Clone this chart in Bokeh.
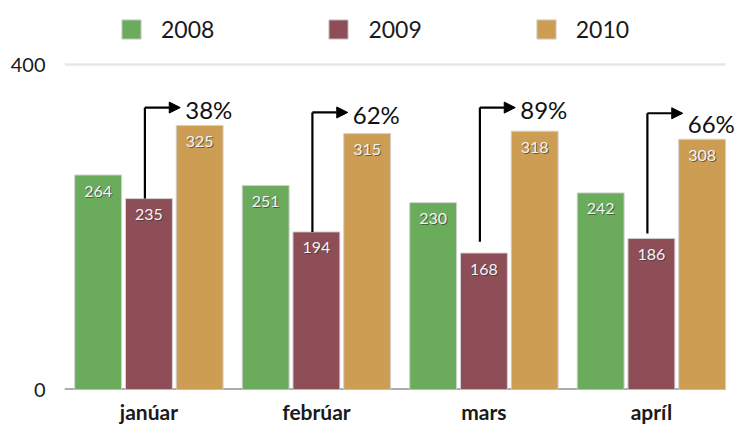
from bokeh.plotting import figure
from bokeh.models import (ColumnDataSource, Range1d, FixedTicker, Legend, LegendItem,
                          Arrow, NormalHead)
from bokeh.core.properties import value
from bokeh.embed import file_html
from bokeh.resources import INLINE

# ---- data ----
months = ["janúar", "febrúar", "mars", "apríl"]
years = ["2008", "2009", "2010"]
v2008 = [264, 251, 230, 242]
v2009 = [235, 194, 168, 186]
v2010 = [325, 315, 318, 308]
pct_labels = ["38%", "62%", "89%", "66%"]
arrow_base = [235, 194, 182, 192]      # where each elbow arrow starts
arrow_level = [347, 341, 347, 340]     # height of the horizontal arrow leg
pct_label_y = [345, 339, 345, 328]     # height of percentage labels
y_ticks = [0, 400]

colors = ["#6aab5c", "#8e4e57", "#cc9d52"]
FONT = "Lato"

xs = list(range(len(months)))
bar_w = 0.28
offs = [-0.303, 0.0, 0.303]
x_lo, x_hi = -0.504, len(months) - 0.558

p = figure(output_backend="svg", toolbar_location=None,
           frame_width=671, frame_height=389,
           min_border_left=64, min_border_right=0, min_border_top=0, min_border_bottom=0,
           x_range=Range1d(x_lo, 3.502), y_range=Range1d(0, 478.8))
p.outline_line_color = None
p.background_fill_color = "white"
p.xgrid.visible = False
p.ygrid.visible = False

# gridline at top value and dark baseline
p.segment(x0=[x_lo], y0=[y_ticks[-1]], x1=[x_hi], y1=[y_ticks[-1]], line_color="#e6e6e6", line_width=2.5)
p.segment(x0=[x_lo], y0=[0], x1=[x_hi], y1=[0], line_color="#5a5a5a", line_width=2)

renderers = []
for vals, off, col in zip([v2008, v2009, v2010], offs, colors):
    src = ColumnDataSource(dict(x=[x + off for x in xs], top=vals,
                                lab=[str(v) for v in vals]))
    r = p.vbar(x="x", top="top", bottom=0, width=bar_w, source=src,
               fill_color=col, line_color="#d2d2d2", line_width=1)
    renderers.append(r)
    p.text(x="x", y="top", text="lab", source=src, text_align="center",
           text_baseline="middle", y_offset=17, x_offset=1,
           text_font=value(FONT), text_font_size="16px", text_color="#333333", text_alpha=0.65)
    p.text(x="x", y="top", text="lab", source=src, text_align="center",
           text_baseline="middle", y_offset=16,
           text_font=value(FONT), text_font_size="16px", text_color="#f4f4f4")

# elbow arrows
ax = [x - 0.024 for x in xs]
tip = [x + 0.187 for x in xs]
asrc = ColumnDataSource(dict(x0=ax, y0=arrow_base, y1=arrow_level, x1=tip,
                             lx=tip, ly=pct_label_y, lab=pct_labels))
p.segment(x0="x0", y0="y0", x1="x0", y1="y1", source=asrc, line_color="black", line_width=2.2)
p.add_layout(Arrow(x_start="x0", y_start="y1", x_end="x1", y_end="y1", source=asrc,
                   line_color="black", line_width=2.2,
                   end=NormalHead(size=11, fill_color="black", line_color="black")))
p.text(x="lx", y="ly", text="lab", source=asrc, x_offset=5, text_baseline="middle",
       text_font=value(FONT), text_font_size="24px", text_color="#111111")

# axes
p.yaxis.ticker = FixedTicker(ticks=y_ticks)
p.yaxis.axis_line_color = None
p.yaxis.major_tick_line_color = None
p.yaxis.minor_tick_line_color = None
p.yaxis.major_label_standoff = 13
p.yaxis.major_label_text_font = FONT
p.yaxis.major_label_text_font_size = "20px"
p.yaxis.major_label_text_color = "#1a1a1a"

p.xaxis.ticker = FixedTicker(ticks=xs)
p.xaxis.major_label_overrides = {i: m for i, m in enumerate(months)}
p.xaxis.axis_line_color = None
p.xaxis.major_tick_line_color = None
p.xaxis.minor_tick_line_color = None
p.xaxis.major_label_standoff = 3
p.xaxis.major_label_text_font = FONT
p.xaxis.major_label_text_font_size = "21px"
p.xaxis.major_label_text_font_style = "bold"
p.xaxis.major_label_text_color = "#1a1a1a"

legend = Legend(items=[LegendItem(label=y, renderers=[r]) for y, r in zip(years, renderers)],
                orientation="horizontal", location=(55, 346),
                glyph_width=24, glyph_height=24, label_standoff=18, spacing=112,
                padding=0, margin=0, border_line_color=None, background_fill_alpha=0,
                label_text_font=FONT, label_text_font_size="23px", label_text_color="#1a1a1a")
p.add_layout(legend, "center")

open("out.html", "w").write(file_html(p, INLINE))
